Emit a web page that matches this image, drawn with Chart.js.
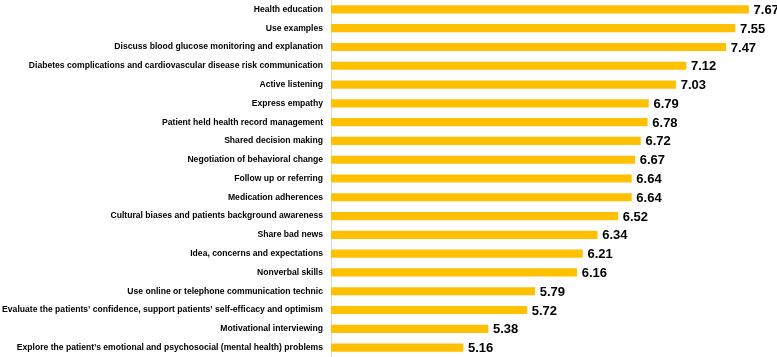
<!DOCTYPE html>
<html>
<head>
<meta charset="utf-8">
<script src="https://cdn.jsdelivr.net/npm/chart.js@4"></script>
<style>
  html, body { margin: 0; padding: 0; background: #fff; }
  #wrap { width: 777px; height: 357px; position: relative; }
</style>
</head>
<body>
<div id="wrap"><canvas id="skillsChart"></canvas></div>
<script>
const categories = [
    "Health education",
    "Use examples",
    "Discuss blood glucose monitoring and explanation",
    "Diabetes complications and cardiovascular disease risk communication",
    "Active listening",
    "Express empathy",
    "Patient held health record management",
    "Shared decision making",
    "Negotiation of behavioral change",
    "Follow up or referring",
    "Medication adherences",
    "Cultural biases and patients background awareness",
    "Share bad news",
    "Idea, concerns and expectations",
    "Nonverbal skills",
    "Use online or telephone communication technic",
    "Evaluate the patients’ confidence, support patients’ self-efficacy and optimism",
    "Motivational interviewing",
    "Explore the patient’s emotional and psychosocial (mental health) problems"
];
const scores = [7.67, 7.55, 7.47, 7.12, 7.03, 6.79, 6.78, 6.72, 6.67, 6.64, 6.64, 6.52, 6.34, 6.21, 6.16, 5.79, 5.72, 5.38, 5.16];
const axisMin = 4;
const axisMax = 7.92;

// draws the score to the right of each bar
const valueLabels = {
    id: "valueLabels",
    afterDatasetsDraw(chart) {
        const ctx = chart.ctx;
        const meta = chart.getDatasetMeta(0);
        ctx.save();
        ctx.font = "bold 13px 'Liberation Sans', Arial, sans-serif";
        ctx.fillStyle = "#000";
        ctx.textAlign = "left";
        ctx.textBaseline = "middle";
        meta.data.forEach((bar, i) => {
            ctx.fillText(scores[i].toFixed(2), bar.x + 5, bar.y + 1);
        });
        ctx.restore();
    }
};

const chartCanvas = document.getElementById("skillsChart").getContext("2d");

new Chart(chartCanvas, {
    type: "bar",
    data: {
        labels: categories,
        datasets: [{
            data: scores,
            backgroundColor: "#FFC000",
            borderWidth: 0,
            barThickness: 7.5
        }]
    },
    options: {
        indexAxis: "y",
        responsive: true,
        maintainAspectRatio: false,
        animation: false,
        layout: { padding: { top: 0, bottom: 0, left: 0, right: 0 } },
        plugins: {
            legend: { display: false },
            tooltip: { enabled: false }
        },
        scales: {
            x: {
                display: false,
                min: axisMin,
                max: axisMax
            },
            y: {
                grid: { display: false, drawTicks: false },
                border: { display: true, color: "#d9d9d9", width: 1 },
                ticks: {
                    padding: 8,
                    color: "#000",
                    font: { family: "'Liberation Sans', Arial, sans-serif", size: 8.6, weight: "bold" }
                },
                afterFit(scale) {
                    scale.width = 331;
                    scale.paddingTop = 0;
                    scale.paddingBottom = 0;
                }
            }
        }
    },
    plugins: [valueLabels]
});
</script>
</body>
</html>
